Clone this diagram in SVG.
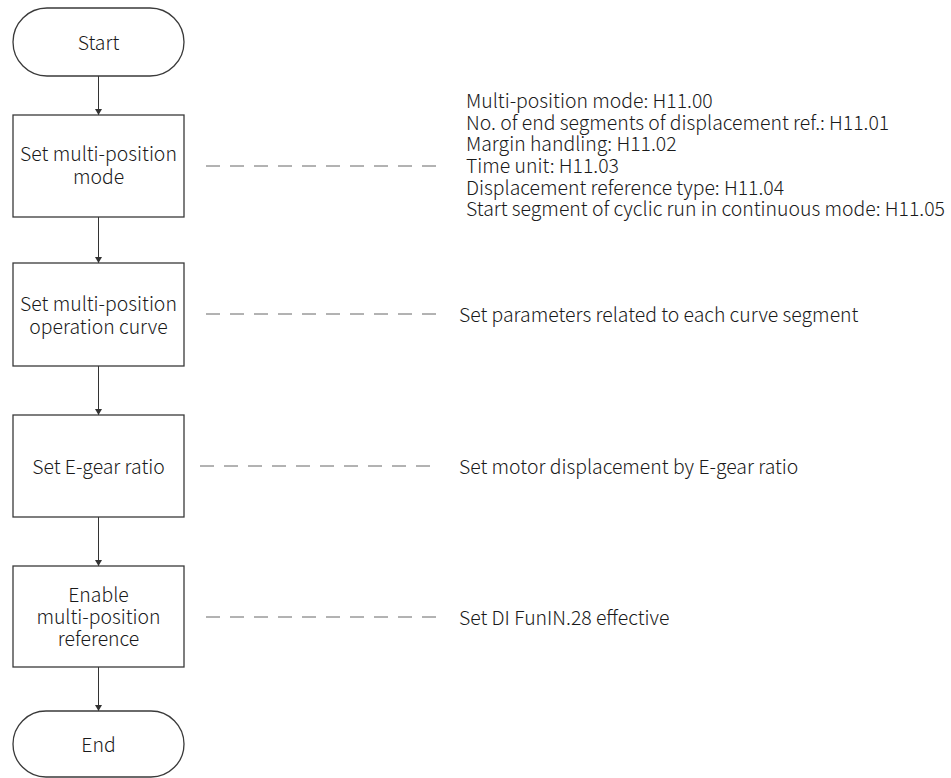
<svg xmlns="http://www.w3.org/2000/svg" width="951" height="778" viewBox="0 0 951 778">
  <defs>
    <marker id="arrow" viewBox="0 0 6 7" refX="6" refY="3.5" markerWidth="6" markerHeight="7" markerUnits="userSpaceOnUse" orient="auto">
      <path d="M0,0 L6,3.5 L0,7 Z" fill="#333"/>
    </marker>
    <style>
      text { font-family: "Noto Sans CJK SC", "Noto Sans", sans-serif; font-size: 19.4px; font-weight: 300; fill: #1a1a1a; }
      .node text { text-anchor: middle; dominant-baseline: central; }
      .shape { fill: #fff; stroke: #3a3a3a; stroke-width: 1.3; }
      .flow { stroke: #333; stroke-width: 1; fill: none; marker-end: url(#arrow); }
      .note-link { stroke: #666; stroke-width: 1; stroke-dasharray: 14 10; fill: none; }
      .note text { dominant-baseline: central; }
    </style>
  </defs>
  <rect width="951" height="778" fill="#fff"/>

  <!-- flow connectors and dashed note links -->
  <g id="connectors">
    <line class="flow" x1="98.5" y1="76" x2="98.5" y2="115"/>
    <line class="flow" x1="98.5" y1="217" x2="98.5" y2="263"/>
    <line class="flow" x1="98.5" y1="366" x2="98.5" y2="415"/>
    <line class="flow" x1="98.5" y1="517" x2="98.5" y2="566"/>
    <line class="flow" x1="98.5" y1="667" x2="98.5" y2="711"/>
    <line class="note-link" x1="206" y1="166" x2="437" y2="166"/>
    <line class="note-link" x1="206" y1="314" x2="437" y2="314"/>
    <line class="note-link" x1="200" y1="466" x2="431" y2="466"/>
    <line class="note-link" x1="206" y1="617" x2="437" y2="617"/>
  </g>

  <g id="start" class="node">
    <rect class="shape" x="13" y="8" width="171" height="68" rx="34" ry="34"/>
    <text x="98.5" y="41">Start</text>
  </g>

  <g id="set-mode" class="node">
    <rect class="shape" x="13" y="115" width="171" height="102"/>
    <text x="98.5" y="152">Set multi-position</text>
    <text x="98.5" y="175">mode</text>
  </g>

  <g id="set-curve" class="node">
    <rect class="shape" x="13" y="263" width="171" height="103"/>
    <text x="98.5" y="302">Set multi-position</text>
    <text x="98.5" y="325">operation curve</text>
  </g>

  <g id="set-egear" class="node">
    <rect class="shape" x="13" y="415" width="171" height="102"/>
    <text x="98.5" y="465">Set E-gear ratio</text>
  </g>

  <g id="enable-ref" class="node">
    <rect class="shape" x="13" y="566" width="171" height="101"/>
    <text x="98.5" y="593">Enable</text>
    <text x="98.5" y="615">multi-position</text>
    <text x="98.5" y="637">reference</text>
  </g>

  <g id="end" class="node">
    <rect class="shape" x="13" y="711" width="171" height="66" rx="33" ry="33"/>
    <text x="98.5" y="743">End</text>
  </g>

  <g id="note-mode" class="note">
    <text x="466" y="99">Multi-position mode: H11.00</text>
    <text x="466" y="121">No. of end segments of displacement ref.: H11.01</text>
    <text x="466" y="142.5">Margin handling: H11.02</text>
    <text x="466" y="164">Time unit: H11.03</text>
    <text x="466" y="186">Displacement reference type: H11.04</text>
    <text x="466" y="207.5">Start segment of cyclic run in continuous mode: H11.05</text>
  </g>

  <g id="note-curve" class="note">
    <text x="459" y="313">Set parameters related to each curve segment</text>
  </g>

  <g id="note-egear" class="note">
    <text x="459" y="465">Set motor displacement by E-gear ratio</text>
  </g>

  <g id="note-enable" class="note">
    <text x="459" y="616">Set DI FunIN.28 effective</text>
  </g>
</svg>
